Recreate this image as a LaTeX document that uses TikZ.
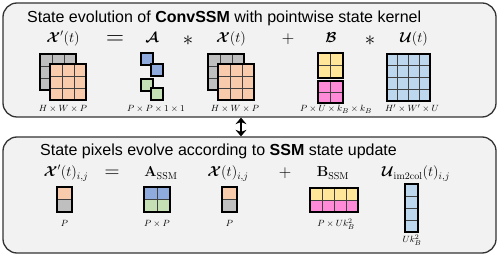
\documentclass[tikz,border=0pt]{standalone}
\usepackage[no-math]{fontspec}
\newfontfamily\titlefont{Liberation Sans}
\usepackage{amsmath,bm}
\usetikzlibrary{arrows.meta}
\definecolor{boxfill}{HTML}{F2F2F2}
\definecolor{boxline}{HTML}{333333}
\definecolor{corange}{HTML}{F8CBAD}
\definecolor{cgray}{HTML}{BFBFBF}
\definecolor{cblue}{HTML}{8FAADC}
\definecolor{cgreen}{HTML}{C5E0B4}
\definecolor{cyellow}{HTML}{FFE699}
\definecolor{cpink}{HTML}{FF8AD8}
\definecolor{clblue}{HTML}{BDD7EE}
% inner lines + frame of a cell grid: x0 y0 x1 y1 nx ny
\newcommand\gridlines[6]{%
  \ifnum#5>1
    \foreach \k in {2,...,#5}{\draw[gridline] ({#1+(\k-1)*(#3-#1)/#5},#2) -- ({#1+(\k-1)*(#3-#1)/#5},#4);}
  \fi
  \ifnum#6>1
    \foreach \k in {2,...,#6}{\draw[gridline] (#1,{#2+(\k-1)*(#4-#2)/#6}) -- (#3,{#2+(\k-1)*(#4-#2)/#6});}
  \fi
  \draw[gridframe] (#1,#2) rectangle (#3,#4);
}
% filled cell grid: x0 y0 x1 y1 nx ny colour
\newcommand\cellgrid[7]{%
  \fill[#7] (#1,#2) rectangle (#3,#4);
  \gridlines{#1}{#2}{#3}{#4}{#5}{#6}%
}
\begin{document}
\begin{tikzpicture}[x=1pt,y=-1pt,
  outerbox/.style={draw=boxline, line width=1.3pt, fill=boxfill, rounded corners=14pt, inner sep=0pt},
  gridline/.style={line width=0.7pt, draw=black!75},
  gridframe/.style={line width=2.2pt, draw=black},
  titletext/.style={anchor=base west, inner sep=0pt, font=\titlefont\fontsize{16}{19}\selectfont},
  eq/.style={anchor=base, inner sep=0pt, font=\fontsize{14}{17}\selectfont},
  opstar/.style={anchor=center, inner sep=0pt, font=\fontsize{22}{24}\selectfont},
  opbig/.style={anchor=center, inner sep=0pt, font=\fontsize{#1}{24}\selectfont},
  lab/.style={anchor=base, inner sep=0pt, font=\fontsize{9.5}{11}\selectfont},
  dblarrow/.style={line width=2.8pt, {Stealth[length=6.5pt,width=11pt]}-{Stealth[length=6.5pt,width=11pt]}}]
\useasboundingbox (0,0) rectangle (498,256);

% ---------- boxes ----------
\node[outerbox, minimum width=493pt, minimum height=114pt] (topbox) at (249.5,60) {};
\node[outerbox, minimum width=493pt, minimum height=116pt] (botbox) at (249.5,195) {};
\coordinate (arrx) at (241,0);
\draw[dblarrow] (topbox.south -| arrx) -- (botbox.north -| arrx);

% ---------- top box ----------
\node[titletext] (title1) at (27,22.5) {State evolution of \textbf{ConvSSM} with pointwise state kernel};

\node[eq] (xp)   at (63,43)  {$\bm{\mathcal{X}}'(t)$};
\node[opbig=24] (eq1)  at (115,40) {$=$};
\node[eq] (A)    at (152,43) {$\bm{\mathcal{A}}$};
\node[opstar] (s1) at (188,41) {$\ast$};
\node[eq] (x)    at (231,43) {$\bm{\mathcal{X}}(t)$};
\node[opbig=17] (pl1)  at (288,39.5) {$+$};
\node[eq] (B)    at (331,43) {$\bm{\mathcal{B}}$};
\node[opstar] (s2) at (370,41) {$\ast$};
\node[eq] (u)    at (414,43) {$\bm{\mathcal{U}}(t)$};

% X'(t)
\cellgrid{40}{54}{76}{90}{3}{3}{cgray}
\cellgrid{50}{64}{86}{100}{3}{3}{corange}
% A
\cellgrid{141}{53}{153}{65}{1}{1}{cblue}
\cellgrid{151}{64}{163}{76}{1}{1}{cblue}
\cellgrid{141}{79}{153}{91}{1}{1}{cgreen}
\cellgrid{151}{88}{163}{100}{1}{1}{cgreen}
% X(t)
\cellgrid{208}{54}{244}{90}{3}{3}{cgray}
\cellgrid{218}{64}{254}{100}{3}{3}{corange}
% B
\cellgrid{318}{53}{343}{78}{2}{2}{cyellow}
\cellgrid{318}{81}{343}{103}{2}{2}{cpink}
% U
\cellgrid{387}{54}{430}{101}{4}{4}{clblue}

\node[lab] (l1) at (63,112)  {$H\times W\times P$};
\node[lab] (l2) at (156,112) {$P\times P\times 1\times 1$};
\node[lab] (l3) at (235,112) {$H\times W\times P$};
\node[lab] (l4) at (336,112) {$P\times U\times k_B\times k_B$};
\node[lab] (l5) at (412,112) {$H'\times W'\times U$};

% ---------- bottom box ----------
\node[titletext] (title2) at (40,155.5) {State pixels evolve according to \textbf{SSM} state update};

\node[eq] (bxp) at (66,177)  {$\bm{\mathcal{X}}'(t)_{i,j}$};
\node[opbig=21] (eq2) at (112,173.5) {$=$};
\node[eq] (bA)  at (161,177) {$\mathbf{A}_{\mathrm{SSM}}$};
\node[eq] (bx)  at (228,177) {$\bm{\mathcal{X}}(t)_{i,j}$};
\node[opbig=17] (pl2) at (285,173.5) {$+$};
\node[eq] (bB)  at (333,177) {$\mathbf{B}_{\mathrm{SSM}}$};
\node[eq] (bu)  at (416,177) {$\bm{\mathcal{U}}_{\mathrm{im2col}}(t)_{i,j}$};

% X'(t)_{i,j}
\fill[corange] (57,187) rectangle (72,199.5);
\fill[cgray] (57,199.5) rectangle (72,212);
\gridlines{57}{187}{72}{212}{1}{2}
% A_SSM
\fill[cblue] (144,187) rectangle (170,199.5);
\fill[cgreen] (144,199.5) rectangle (170,212);
\gridlines{144}{187}{170}{212}{2}{2}
% X(t)_{i,j}
\fill[corange] (222,187) rectangle (237,199.5);
\fill[cgray] (222,199.5) rectangle (237,212);
\gridlines{222}{187}{237}{212}{1}{2}
% B_SSM
\fill[cyellow] (310,188) rectangle (358,200);
\fill[cpink] (310,200) rectangle (358,212);
\gridlines{310}{188}{358}{212}{4}{2}
% U_im2col
\cellgrid{405}{184}{418}{232}{1}{4}{clblue}

\node[lab] (bl1) at (64.5,227) {$P$};
\node[lab] (bl2) at (157,227) {$P\times P$};
\node[lab] (bl3) at (229.5,227) {$P$};
\node[lab] (bl4) at (336,227) {$P\times Uk_B^2$};
\node[lab] (bl5) at (412,243) {$Uk_B^2$};
\end{tikzpicture}
\end{document}
